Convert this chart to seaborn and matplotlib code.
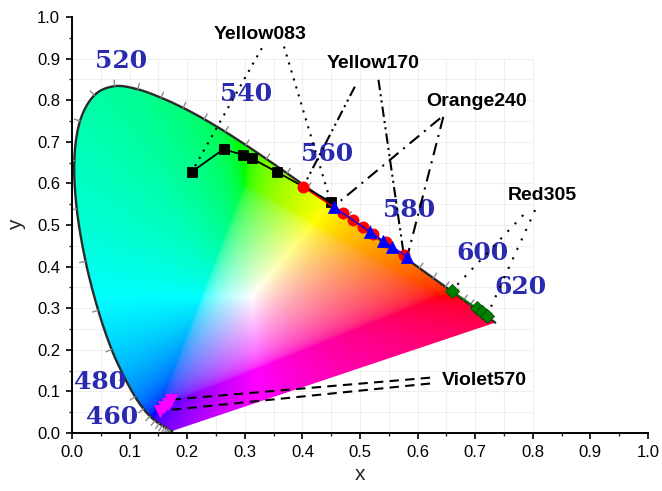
import numpy as np
import matplotlib
matplotlib.use("Agg")
import matplotlib.pyplot as plt
from matplotlib.patches import Polygon
from matplotlib.ticker import MultipleLocator, FormatStrFormatter
import seaborn as sns

# CIE 1931 2-degree observer: spectral locus chromaticity coordinates
wavelengths = [380, 385, 390, 395, 400, 405, 410, 415, 420, 425, 430, 435, 440, 445,
               450, 455, 460, 465, 470, 475, 480, 485, 490, 495, 500, 505, 510, 515,
               520, 525, 530, 535, 540, 545, 550, 555, 560, 565, 570, 575, 580, 585,
               590, 595, 600, 605, 610, 615, 620, 625, 630, 635, 640, 645, 650, 655,
               660, 665, 670, 680, 690, 700]
locus_x = [0.1741, 0.1740, 0.1738, 0.1736, 0.1733, 0.1730, 0.1726, 0.1721, 0.1714,
           0.1703, 0.1689, 0.1669, 0.1644, 0.1611, 0.1566, 0.1510, 0.1440, 0.1355,
           0.1241, 0.1096, 0.0913, 0.0687, 0.0454, 0.0235, 0.0082, 0.0039, 0.0139,
           0.0389, 0.0743, 0.1142, 0.1547, 0.1929, 0.2296, 0.2658, 0.3016, 0.3373,
           0.3731, 0.4087, 0.4441, 0.4788, 0.5125, 0.5448, 0.5752, 0.6029, 0.6270,
           0.6482, 0.6658, 0.6801, 0.6915, 0.7006, 0.7079, 0.7140, 0.7190, 0.7230,
           0.7260, 0.7283, 0.7300, 0.7311, 0.7320, 0.7334, 0.7344, 0.7347]
locus_y = [0.0050, 0.0050, 0.0049, 0.0049, 0.0048, 0.0048, 0.0048, 0.0048, 0.0051,
           0.0058, 0.0069, 0.0086, 0.0109, 0.0138, 0.0177, 0.0227, 0.0297, 0.0399,
           0.0578, 0.0868, 0.1327, 0.2007, 0.2950, 0.4127, 0.5384, 0.6548, 0.7502,
           0.8120, 0.8338, 0.8262, 0.8059, 0.7816, 0.7543, 0.7243, 0.6923, 0.6589,
           0.6245, 0.5896, 0.5547, 0.5202, 0.4866, 0.4544, 0.4242, 0.3965, 0.3725,
           0.3514, 0.3340, 0.3197, 0.3083, 0.2993, 0.2920, 0.2859, 0.2809, 0.2770,
           0.2740, 0.2717, 0.2700, 0.2689, 0.2680, 0.2666, 0.2656, 0.2653]

# Wavelength captions around the locus
wl_text = ["520", "540", "560", "580", "600", "620", "480", "460"]
wl_text_x = [0.086, 0.303, 0.442, 0.585, 0.713, 0.778, 0.049, 0.069]
wl_text_y = [0.895, 0.814, 0.670, 0.536, 0.432, 0.350, 0.123, 0.038]

# Measured chromaticity coordinates for each phosphor
yellow083_x = [0.208, 0.263, 0.296, 0.312, 0.355, 0.449]
yellow083_y = [0.628, 0.682, 0.669, 0.660, 0.628, 0.556]
yellow170_x = [0.401, 0.471, 0.487, 0.506, 0.522, 0.545, 0.576]
yellow170_y = [0.591, 0.528, 0.513, 0.495, 0.479, 0.458, 0.428]
orange240_x = [0.454, 0.517, 0.540, 0.555, 0.582]
orange240_y = [0.544, 0.484, 0.462, 0.448, 0.424]
red305_x = [0.659, 0.703, 0.711, 0.720]
red305_y = [0.342, 0.300, 0.292, 0.281]
violet570_x = [0.153, 0.160, 0.166, 0.171]
violet570_y = [0.053, 0.062, 0.070, 0.080]

series_names = ["Yellow083", "Yellow170", "Orange240", "Red305", "Violet570"]
name_x = [0.327, 0.5226, 0.703, 0.816, 0.715]
name_y = [0.959, 0.887, 0.797, 0.571, 0.127]


def catmull_rom(px, py, steps=10):
    """Smooth curve through the given points (uniform Catmull-Rom)."""
    p = np.column_stack([px, py])
    p = np.vstack([p[0], p, p[-1]])
    out = []
    t = np.linspace(0, 1, steps, endpoint=False)[:, None]
    for i in range(1, len(p) - 2):
        p0, p1, p2, p3 = p[i - 1], p[i], p[i + 1], p[i + 2]
        seg = 0.5 * ((2 * p1) + (-p0 + p2) * t
                     + (2 * p0 - 5 * p1 + 4 * p2 - p3) * t ** 2
                     + (-p0 + 3 * p1 - 3 * p2 + p3) * t ** 3)
        out.append(seg)
    out.append(p[-2][None, :])
    return np.vstack(out)


sns.set_style("ticks")
plt.rcParams["font.family"] = ["Liberation Sans", "DejaVu Sans"]

fig = plt.figure(figsize=(6.62, 4.91), dpi=100)
ax = fig.add_axes([0.1088, 0.1181, 0.8701, 0.8473])
ax.set_xlim(0, 1)
ax.set_ylim(0, 1)

# faint background grid behind the diagram
for gx in np.arange(0.05, 0.801, 0.05):
    ax.plot([gx, gx], [0, 0.9], color="#efefef", lw=0.8, zorder=0.5)
for gy in np.arange(0.05, 0.901, 0.05):
    ax.plot([0, 0.8], [gy, gy], color="#efefef", lw=0.8, zorder=0.5)

# chromaticity colour fill (xyY -> XYZ -> sRGB), clipped to the gamut
n = 700
gxs = np.linspace(0.0, 0.8, n)
gys = np.linspace(0.001, 0.9, n)
GX, GY = np.meshgrid(gxs, gys)
Xv = GX / GY
Zv = (1.0 - GX - GY) / GY
M = np.array([[3.2406, -1.5372, -0.4986],
              [-0.9689, 1.8758, 0.0415],
              [0.0557, -0.2040, 1.0570]])
rgb = np.stack([M[i, 0] * Xv + M[i, 1] + M[i, 2] * Zv for i in range(3)], axis=-1)
# partial desaturation of out-of-gamut colours towards white
neg = np.minimum(rgb.min(axis=-1, keepdims=True), 0)
rgb = np.clip(rgb - 0.75 * neg, 0, None)
rgb = rgb / (rgb.max(axis=-1, keepdims=True) + 1e-12)
rgb = np.where(rgb <= 0.0031308, 12.92 * rgb, 1.055 * np.power(rgb, 1 / 2.4) - 0.055)
rgb = np.clip(rgb, 0, 1)
im = ax.imshow(rgb, origin="lower", extent=[0, 0.8, 0.001, 0.9],
               interpolation="bilinear", aspect="auto", zorder=1)

curve = catmull_rom(locus_x, locus_y)
gamut = Polygon(curve, closed=True, transform=ax.transData,
                facecolor="none", edgecolor="none")
ax.add_patch(gamut)
im.set_clip_path(gamut)
ax.set_xlim(0, 1)
ax.set_ylim(0, 1)

# spectral locus outline
ax.plot(curve[:, 0], curve[:, 1], color="#2a2a2a", lw=1.7, zorder=2,
        solid_capstyle="round", solid_joinstyle="round")

# small wavelength ticks outward from the locus every 5 nm
lx = np.array(locus_x)
ly = np.array(locus_y)
pix = ax.transData.transform(np.column_stack([lx, ly]))
tang = np.gradient(pix, axis=0)
norm = np.column_stack([tang[:, 1], -tang[:, 0]])
norm /= np.linalg.norm(norm, axis=1, keepdims=True)
centre = ax.transData.transform((0.33, 0.33))
flip = np.sum((pix - centre) * norm, axis=1) < 0
norm[flip] *= -1
inv = ax.transData.inverted()
for i, wl in enumerate(wavelengths):
    if 425 <= wl <= 645:
        p0 = pix[i]
        p1 = p0 + norm[i] * 6
        d = inv.transform(np.vstack([p0, p1]))
        ax.plot(d[:, 0], d[:, 1], color="#8a8a8a", lw=1.0, zorder=2)

# wavelength captions
for t, tx, ty in zip(wl_text, wl_text_x, wl_text_y):
    ax.text(tx, ty, t, ha="center", va="center", fontsize=18,
            family="DejaVu Serif", weight="bold", color="#2a2ab0", zorder=3)

# phosphor data series
series = [
    (yellow083_x, yellow083_y, "black", "s", 6.5, 1.3, "black"),
    (yellow170_x, yellow170_y, "#ff0000", "o", 8.0, 1.0, "#ff0000"),
    (orange240_x, orange240_y, "#0000ff", "^", 9.0, 1.0, "#0000ff"),
    (red305_x, red305_y, "#008000", "D", 7.0, 1.0, "#004d00"),
    (violet570_x, violet570_y, "#ff00ff", "v", 9.0, 1.0, "#ff00ff"),
]
for sx, sy, c, mk, ms, lw, ec in series:
    sns.lineplot(x=sx, y=sy, ax=ax, color=c, marker=mk, markersize=ms, lw=lw,
                 markeredgecolor=ec, markeredgewidth=0.6, sort=False,
                 estimator=None, zorder=5)

# leader lines from each caption to the first and last points of its series
leader_styles = [
    [(0, (1, 3)), (0, (1, 3))],
    [(0, (5, 2, 1, 2, 1, 2)), (0, (5, 2, 1, 2, 1, 2))],
    [(0, (6, 3, 1, 3)), (0, (6, 3, 1, 3))],
    [(0, (1, 4)), (0, (1, 4))],
    [(0, (4.5, 3)), (0, (4.5, 3))],
]
leader_starts = [
    [(0.3295, 0.925), (0.368, 0.929)],
    [(0.491, 0.8325), (0.532, 0.849)],
    [(0.639, 0.7565), (0.6446, 0.760)],
    [(0.7835, 0.524), (0.804, 0.536)],
    [(0.6215, 0.119), (0.6215, 0.133)],
]
all_x = [yellow083_x, yellow170_x, orange240_x, red305_x, violet570_x]
all_y = [yellow083_y, yellow170_y, orange240_y, red305_y, violet570_y]
for k in range(5):
    ends = [(all_x[k][0], all_y[k][0]), (all_x[k][-1], all_y[k][-1])]
    for (x0, y0), (x1, y1), ls in zip(leader_starts[k], ends, leader_styles[k]):
        ax.plot([x0, x1], [y0, y1], color="black", lw=1.5, linestyle=ls, zorder=4)

for nm, tx, ty in zip(series_names, name_x, name_y):
    ax.text(tx, ty, nm, ha="center", va="center", fontsize=14, weight="bold",
            color="black", zorder=6)

# axes styling
for s in ["top", "right"]:
    ax.spines[s].set_visible(False)
for s in ["left", "bottom"]:
    ax.spines[s].set_linewidth(1.4)
    ax.spines[s].set_color("black")
ax.xaxis.set_major_locator(MultipleLocator(0.1))
ax.xaxis.set_minor_locator(MultipleLocator(0.05))
ax.yaxis.set_major_locator(MultipleLocator(0.1))
ax.yaxis.set_minor_locator(MultipleLocator(0.05))
ax.xaxis.set_major_formatter(FormatStrFormatter("%.1f"))
ax.yaxis.set_major_formatter(FormatStrFormatter("%.1f"))
ax.tick_params(which="major", direction="out", length=4.5, width=1.2,
               labelsize=12, colors="black", pad=4)
ax.tick_params(which="minor", direction="out", length=2.5, width=1.0)
ax.set_xlabel("x", fontsize=15, labelpad=4)
ax.set_ylabel("y", fontsize=15, labelpad=8)
ax.set_xlim(0, 1)
ax.set_ylim(0, 1)
ax.set_facecolor("white")
fig.patch.set_facecolor("white")

fig.savefig("out.png", dpi=100)
